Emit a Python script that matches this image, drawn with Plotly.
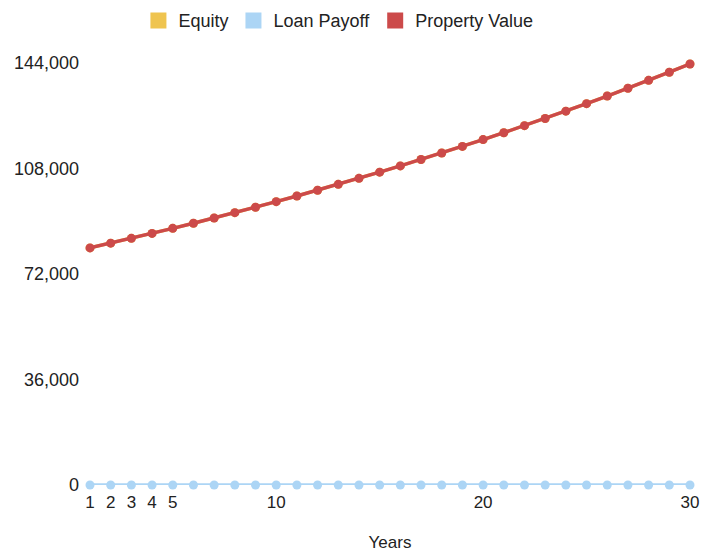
import plotly.graph_objects as go

years = list(range(1, 31))
property_value = [80900, 82518, 84168, 85852, 87569, 89320, 91107, 92929, 94787, 96683,
                  98617, 100589, 102601, 104653, 106746, 108881, 111058, 113280, 115545, 117856,
                  120213, 122617, 125070, 127571, 130123, 132725, 135380, 138087, 140849, 143666]
loan_payoff = [0] * 30
equity = list(property_value)

x_ticks = [1, 2, 3, 4, 5, 10, 20, 30]
y_ticks = [0, 36000, 72000, 108000, 144000]

series = [("Equity", equity, "#efc44f"),
          ("Loan Payoff", loan_payoff, "#acd5f5"),
          ("Property Value", property_value, "#cc4a4a")]

fig = go.Figure()
for name, vals, col in series:
    fig.add_trace(go.Scatter(x=years, y=vals, mode="lines+markers", name=name,
                             line=dict(color=col, width=3.5), marker=dict(color=col, size=9),
                             cliponaxis=False, showlegend=False))
for name, vals, col in series:
    fig.add_trace(go.Scatter(x=[None], y=[None], mode="markers", name=name,
                             marker=dict(color=col, size=16, symbol="square"), showlegend=True))

font = "Liberation Sans, Arial, sans-serif"
fig.update_layout(
    width=717, height=552,
    margin=dict(l=90, r=27, t=63, b=67),
    plot_bgcolor="white", paper_bgcolor="white",
    font=dict(family=font, size=17, color="#222"),
    legend=dict(orientation="h", xref="container", yref="container", x=0.472, y=0.996,
                xanchor="center", yanchor="top", font=dict(size=18, color="#222"),
                itemwidth=30, tracegroupgap=0),
    xaxis=dict(range=[1, 30], tickvals=x_ticks, showgrid=False, zeroline=False,
               showline=False, ticklabelstandoff=5, automargin=False,
               tickfont=dict(size=17),
               title=dict(text="Years", standoff=28, font=dict(size=17))),
    yaxis=dict(range=[0, 144000], tickvals=y_ticks, tickformat=",", showgrid=False,
               zeroline=False, showline=False, ticklabelstandoff=10, automargin=False,
               tickfont=dict(size=18)),
)
fig.write_html("out.html")
